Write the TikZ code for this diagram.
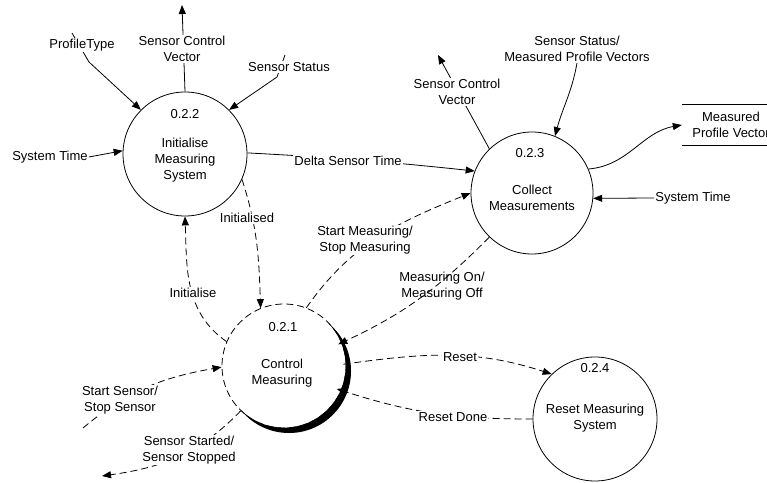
\documentclass[tikz,border=0pt]{standalone}
\usepackage{fontspec}
\setmainfont{Liberation Sans}
\usetikzlibrary{arrows.meta,calc}
\tikzset{
  proc/.style={circle,draw,line width=0.8pt,minimum size=124pt,inner sep=0pt},
  txt/.style={align=center,inner sep=1pt,font=\fontsize{13}{16}\selectfont},
  lbl/.style={txt,fill=white},
  plain/.style={line width=0.8pt},
  flow/.style={plain,-{Triangle[length=9pt,width=7pt]}},
  cflow/.style={flow,dash pattern=on 7pt off 4pt},
}
\begin{document}
\begin{tikzpicture}[x=1pt,y=1pt]
\useasboundingbox (0,0) rectangle (767,482);

% processes
\node[proc] (A) at (185,328) {};
\node[proc,minimum size=122pt] (B) at (532,289) {};
\node[proc,draw=none] (C) at (284,116) {};
\node[proc] (D) at (595,63) {};

% control process: dashed outline with a heavy crescent on the lower right
\draw[line width=0.8pt,dash pattern=on 7pt off 4pt] (C.center) circle (62pt);
\begin{scope}
  \clip ($(C.center)+(5,-5)$) circle (62pt);
  \fill[even odd rule] (C.center) circle (61.6pt)
    ($(C.center)+(-90,-90)$) rectangle ++(180,180);
\end{scope}

% process numbers and names
\node[txt] (An) at ($(A)+(0,40)$) {0.2.2};
\node[txt] (At) at ($(A)+(0,-6)$) {Initialise\\Measuring\\System};
\node[txt] (Bn) at ($(B)+(-2,40)$) {0.2.3};
\node[txt] (Bt) at ($(B)+(0,-5)$) {Collect\\Measurements};
\node[txt] (Cn) at ($(C)+(-1,39)$) {0.2.1};
\node[txt] (Ct) at ($(C)+(-2,-7)$) {Control\\Measuring};
\node[txt] (Dn) at ($(D)+(0,51)$) {0.2.4};
\node[txt] (Dt) at ($(D)+(0,1)$) {Reset Measuring\\System};

% data store
\node[txt,minimum width=98pt,minimum height=40pt] (store) at (731,357) {Measured\\Profile Vector};
\draw[plain] (store.north west) -- (store.north east)
             (store.south west) -- (store.south east);

% free ends
\coordinate (ptA) at (72,449);
\coordinate (ptAb) at (89,420);
\coordinate (scA) at (182,477);
\coordinate (ssA) at (285,427);
\coordinate (ssAb) at (277,405);
\coordinate (ssC) at (83,54);
\coordinate (seC) at (102,6);
\coordinate (scB) at (438,427);

% flows around 0.2.2
\draw[flow] (ptA) -- (ptAb) -- (A.135);
\draw[flow] (A.north) -- (scA);
\draw[flow] (ssA) -- (ssAb) -- (A.45);
\node[lbl] (stA) at (50,325) {System Time};
\draw[flow] (stA.east) -- (A.177);
\draw[flow] (A.1) to[out=-3,in=174] (B.159);
\draw[cflow] (A.-24) to[out=-72,in=92] (C.112);
\draw[cflow] (C.157) to[out=145,in=-88] (A.-90);

% flows around 0.2.1
\draw[cflow] (C.69) to[out=55,in=202] (B.180);
\draw[cflow,shorten >=-4pt] (B.226) to[out=225,in=25] (C.22);
\draw[cflow] (ssC) to[out=40,in=190] (C.181);
\draw[cflow] (C.226) to[out=226,in=8] (seC);
\draw[cflow,shorten <=-3pt] (C.2) to[out=8,in=162] (D.134);
\draw[cflow,shorten >=-5pt] (D.180) to[out=180,in=-18] (C.-23);

% flows around 0.2.3
\draw[flow] (B.134) -- (scB);
\node[txt] (ssm) at (577,433) {Sensor Status/\\Measured Profile Vectors};
\draw[flow] (ssm.south) to[out=-100,in=75] (B.68);
\draw[flow] (B.23) to[out=5,in=190] (store.west);
\node[lbl] (stB) at (693,284) {System Time};
\draw[flow] (stB.west) -- (B.-5);

% flow labels
\node[lbl] (lPT) at (82,437) {ProfileType};
\node[lbl] (lSCA) at (182,433) {Sensor Control\\Vector};
\node[lbl] (lSSA) at (289,415) {Sensor Status};
\node[lbl] (lDST) at (348,321) {Delta Sensor Time};
\node[lbl] (lIed) at (247,264) {Initialised};
\node[lbl] (lIse) at (193,189) {Initialise};
\node[lbl] (lSM) at (365,242) {Start Measuring/\\Stop Measuring};
\node[txt] (lMO) at (442,196) {Measuring On/\\Measuring Off};
\node[lbl] (lSS) at (120,82) {Start Sensor/\\Stop Sensor};
\node[lbl] (lSSt) at (189,32) {Sensor Started/\\Sensor Stopped};
\node[lbl] (lR) at (460,125) {Reset};
\node[lbl] (lRD) at (453,65) {Reset Done};
\node[lbl] (lSCB) at (457,390) {Sensor Control\\Vector};
\end{tikzpicture}
\end{document}
